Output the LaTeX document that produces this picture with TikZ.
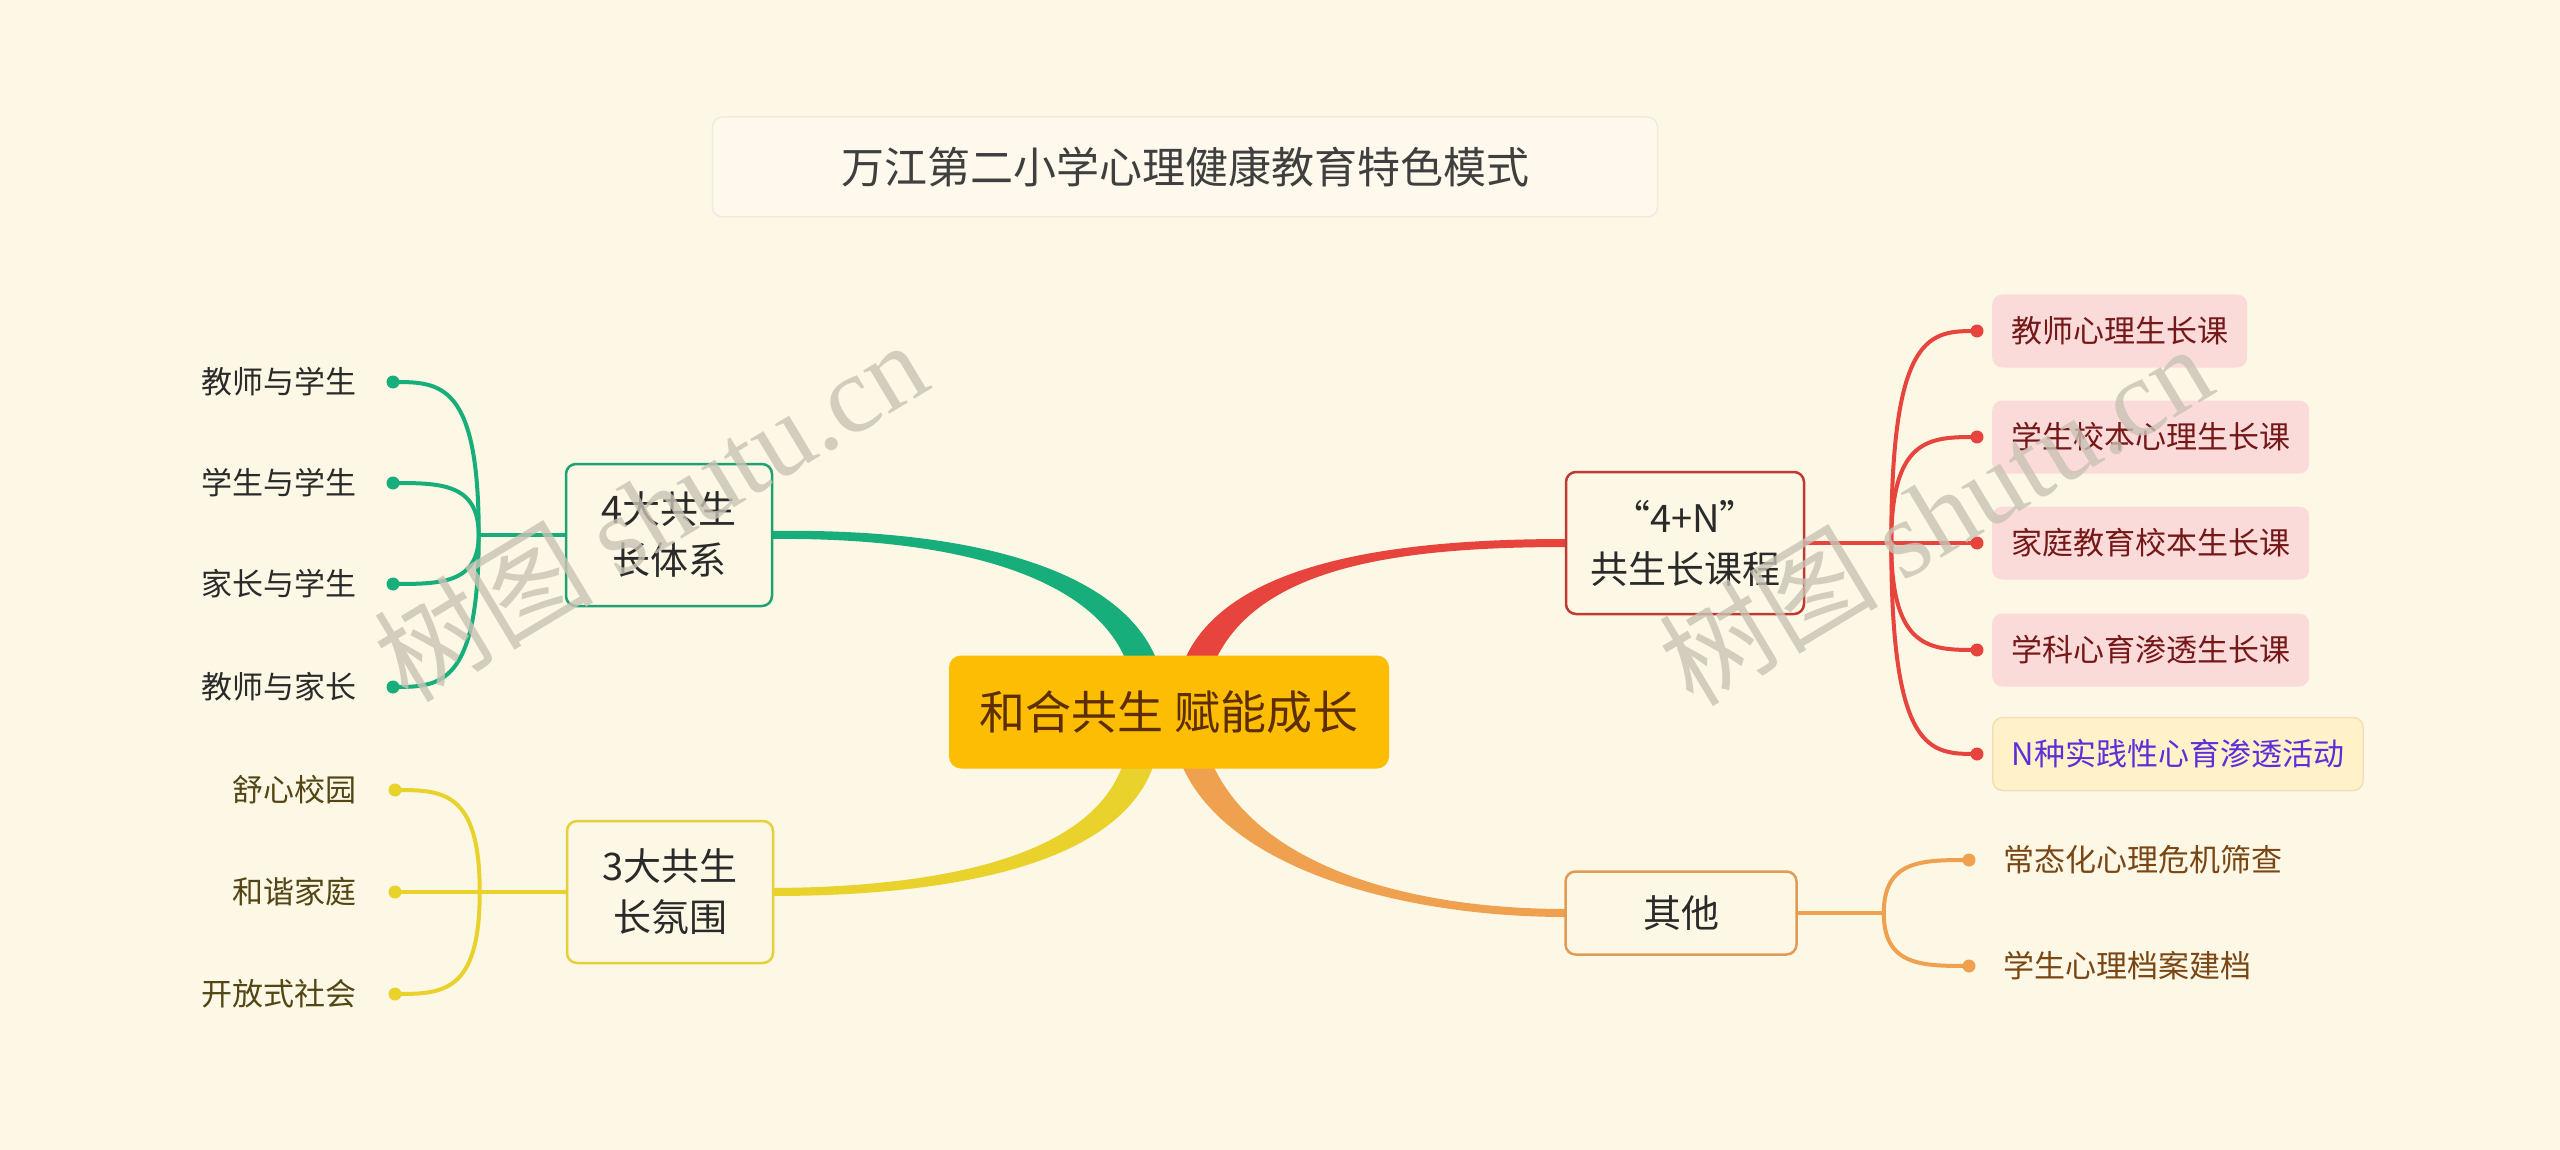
\documentclass[tikz,border=0pt]{standalone}
\usepackage{fontspec}
\setmainfont{Noto Sans CJK SC}
\newfontfamily\wmlatin{Liberation Serif}
\usetikzlibrary{calc}
\pgfdeclarelayer{bottom}
\pgfdeclarelayer{conn}
\pgfsetlayers{bottom,conn,main}
\definecolor{bg}{HTML}{FDF7E5}
\definecolor{txt}{HTML}{2A2A2A}
\definecolor{gr}{HTML}{17AE7B}
\definecolor{grb}{HTML}{1EA272}
\definecolor{yl}{HTML}{EAD22C}
\definecolor{ylb}{HTML}{E6CF3A}
\definecolor{rd}{HTML}{E8443E}
\definecolor{rdb}{HTML}{BF3A32}
\definecolor{og}{HTML}{EFA14F}
\definecolor{ogb}{HTML}{E29B55}
\definecolor{pinkf}{HTML}{FBDADA}
\definecolor{lyf}{HTML}{FFF2C9}
\definecolor{lyb}{HTML}{F5DDB8}
\definecolor{purp}{HTML}{5B30D9}
\definecolor{dred}{HTML}{741818}
\definecolor{brn}{HTML}{7A4614}
\definecolor{olv}{HTML}{524614}
\definecolor{rootf}{HTML}{FCBD02}
\definecolor{roott}{HTML}{5C2E00}
\definecolor{titlef}{HTML}{FEF9EC}
\definecolor{titleb}{HTML}{F1EBD9}
\definecolor{wmc}{HTML}{C9C3B5}
\begin{document}
\begin{tikzpicture}[x=1pt,y=-1pt,
  every node/.style={inner sep=0pt},
  titlebox/.style={draw=titleb, line width=1.5pt, fill=titlef, rounded corners=10pt,
    text=txt!90, font=\fontsize{43}{50}\selectfont},
  rootbox/.style={fill=rootf, rounded corners=12pt, text=roott,
    font=\fontsize{46}{54}\selectfont, minimum width=440, minimum height=113},
  mainbox/.style={line width=2.5pt, rounded corners=10pt, fill=bg, align=center,
    text=txt, font=\fontsize{38}{51}\selectfont, minimum height=142},
  leaftxt/.style={font=\fontsize{31}{36}\selectfont},
  pinkbox/.style={leaftxt, fill=pinkf, rounded corners=10pt, inner xsep=19pt,
    minimum height=73, text=dred, anchor=west},
  subline/.style={line width=4pt},
  wm/.style={font=\fontsize{110}{120}\selectfont, text=wmc, opacity=0.8}]

\begin{pgfonlayer}{bottom}
\fill[bg] (0,0) rectangle (2560,1150);
\end{pgfonlayer}
\useasboundingbox (0,0) rectangle (2560,1150);

% ---------- nodes ----------
\node[titlebox, minimum width=945, minimum height=100] (title) at (1185,167) {万江第二小学心理健康教育特色模式};

\node[rootbox] (root) at (1169,712) {和合共生 赋能成长};
\node[mainbox, draw=grb, minimum width=206] (g4) at (669,535) {4大共生\\长体系};
\node[mainbox, draw=ylb, minimum width=206] (g3) at (670,892) {3大共生\\长氛围};
\node[mainbox, draw=rdb, minimum width=238] (n4) at (1685,543) {“4+N”\\共生长课程};
\node[mainbox, draw=ogb, minimum width=231, minimum height=83] (ot) at (1681,913) {其他};

% ---------- main tapered connectors ----------
\begin{pgfonlayer}{conn}
\fill[gr] ($(g4.east)+(-2,-4)$) .. controls (960,528) and (1122,565) .. ($(root.north)+(-11,8)$)
  -- ($(root.north)+(-42,8)$) .. controls (1095,578) and (960,537) .. ($(g4.east)+(-2,4)$) -- cycle;
\fill[yl] ($(g3.east)+(-2,4)$) .. controls (960,896) and (1125,862) .. ($(root.south)+(-14,-8)$)
  -- ($(root.south)+(-45,-8)$) .. controls (1097,850) and (960,887) .. ($(g3.east)+(-2,-4)$) -- cycle;
\fill[rd] ($(root.north)+(14,8)$) .. controls (1225,560) and (1400,539) .. ($(n4.west)+(2,-4)$)
  -- ($(n4.west)+(2,4)$) .. controls (1400,547) and (1257,566) .. ($(root.north)+(45,8)$) -- cycle;
\fill[og] ($(root.south)+(11,-8)$) .. controls (1222,868) and (1400,917) .. ($(ot.west)+(2,4)$)
  -- ($(ot.west)+(2,-4)$) .. controls (1400,909) and (1254,862) .. ($(root.south)+(42,-8)$) -- cycle;
\end{pgfonlayer}

% ---------- green sub-branches ----------
\coordinate (gj) at ($(g4.west)+(-86,0)$);
\coordinate (gd1) at (393,382);
\coordinate (gd2) at (393,483);
\coordinate (gd3) at (393,584);
\coordinate (gd4) at (393,687);
\draw[subline, gr] (g4.west) -- (gj);
\foreach \d in {gd1,gd2,gd3,gd4}{
  \draw[subline, gr] (gj) .. controls (gj |- \d) and ($(\d)+(47,0)$) .. (\d);
  \fill[gr] (\d) circle (6.5);
}
\node[leaftxt, text=txt, anchor=east] (gl1) at (357,382) {教师与学生};
\node[leaftxt, text=txt, anchor=east] (gl2) at (357,483) {学生与学生};
\node[leaftxt, text=txt, anchor=east] (gl3) at (357,584) {家长与学生};
\node[leaftxt, text=txt, anchor=east] (gl4) at (357,687) {教师与家长};

% ---------- yellow sub-branches ----------
\coordinate (yj) at ($(g3.west)+(-86,0)$);
\coordinate (yd1) at (395,790);
\coordinate (yd2) at (395,892);
\coordinate (yd3) at (395,994);
\draw[subline, yl] (g3.west) -- (yj);
\draw[subline, yl] (yj) -- (yd2);
\foreach \d in {yd1,yd3}{
  \draw[subline, yl] (yj) .. controls (yj |- \d) and ($(\d)+(47,0)$) .. (\d);
}
\foreach \d in {yd1,yd2,yd3}{ \fill[yl] (\d) circle (6.5); }
\node[leaftxt, text=olv, anchor=east] (yl1) at (357,790) {舒心校园};
\node[leaftxt, text=olv, anchor=east] (yl2) at (357,892) {和谐家庭};
\node[leaftxt, text=olv, anchor=east] (yl3) at (357,994) {开放式社会};

% ---------- red sub-branches ----------
\coordinate (rj) at ($(n4.east)+(86,0)$);
\coordinate (rd1) at (1977,331);
\coordinate (rd2) at (1977,437);
\coordinate (rd3) at (1977,543);
\coordinate (rd4) at (1977,650);
\coordinate (rd5) at (1977,754);
\draw[subline, rd] (n4.east) -- (rj);
\draw[subline, rd] (rj) -- (rd3);
\foreach \d in {rd1,rd2,rd4,rd5}{
  \draw[subline, rd] (rj) .. controls (rj |- \d) and ($(\d)+(-47,0)$) .. (\d);
}
\foreach \d in {rd1,rd2,rd3,rd4,rd5}{ \fill[rd] (\d) circle (6.5); }
\node[pinkbox] (rl1) at (1992,331) {教师心理生长课};
\node[pinkbox] (rl2) at (1992,437) {学生校本心理生长课};
\node[pinkbox] (rl3) at (1992,543) {家庭教育校本生长课};
\node[pinkbox] (rl4) at (1992,650) {学科心育渗透生长课};
\node[pinkbox, fill=lyf, draw=lyb, line width=1.5pt, text=purp] (rl5) at (1992,754) {N种实践性心育渗透活动};

% ---------- orange sub-branches ----------
\coordinate (oj) at ($(ot.east)+(86,0)$);
\coordinate (od1) at (1969,860);
\coordinate (od2) at (1969,966);
\draw[subline, og] (ot.east) -- (oj);
\foreach \d in {od1,od2}{
  \draw[subline, og] (oj) .. controls (oj |- \d) and ($(\d)+(-47,0)$) .. (\d);
  \fill[og] (\d) circle (6.5);
}
\node[leaftxt, text=brn, anchor=west] (ol1) at (2003,860) {常态化心理危机筛查};
\node[leaftxt, text=brn, anchor=west] (ol2) at (2003,966) {学生心理档案建档};

% ---------- watermarks ----------
\node[wm, rotate=31] (wm1) at (650,510) {树图 {\wmlatin shutu.cn}};
\node[wm, rotate=31] (wm2) at (1935,514) {树图 {\wmlatin shutu.cn}};

\end{tikzpicture}
\end{document}
